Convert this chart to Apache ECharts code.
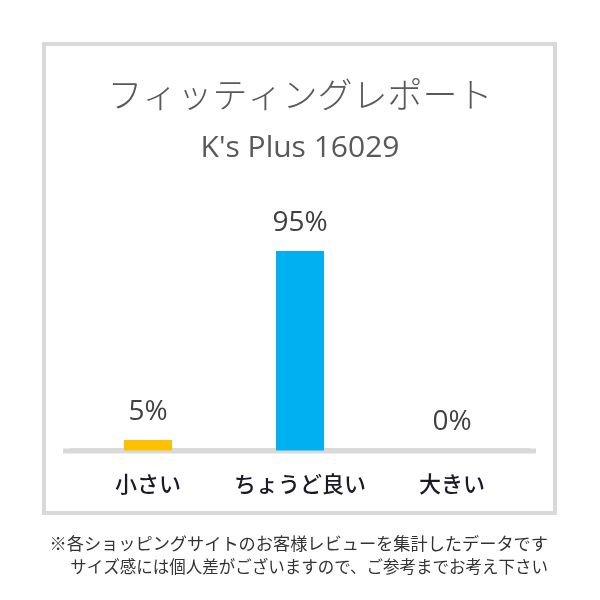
<!DOCTYPE html>
<html>
<head>
<meta charset="utf-8">
<script src="https://cdn.jsdelivr.net/npm/echarts@6/dist/echarts.min.js"></script>
<style>html,body{margin:0;padding:0;background:#fff}#c{width:600px;height:600px}</style>
</head>
<body>
<div id="c"></div>
<script>
const categories = ['小さい', 'ちょうど良い', '大きい'];
const values = [5, 95, 0];
const barColors = ['#FFC000', '#00B0F0', '#A5A5A5'];
const titleText = 'フィッティングレポート';
const subtitleText = "K's Plus 16029";
const noteLines = ['※各ショッピングサイトのお客様レビューを集計したデータです', 'サイズ感には個人差がございますので、ご参考までお考え下さい'];

const chart = echarts.init(document.getElementById('c'), null, {renderer: 'canvas'});
chart.setOption({
  animation: false,
  backgroundColor: '#fff',
  title: [
    {text: titleText, left: 'center', top: 72,
     textStyle: {fontFamily: 'Noto Sans CJK JP', fontSize: 35, fontWeight: 300, color: '#595959'}},
    {text: subtitleText, left: 'center', top: 128,
     textStyle: {fontFamily: 'Open Sans', fontSize: 30, fontWeight: 'normal', color: '#595959'}}
  ],
  grid: {left: 72, right: 72, top: 240.5, bottom: 149.5},
  xAxis: {
    type: 'category', data: categories,
    axisLine: {show: true, lineStyle: {color: '#d9d9d9', width: 5}},
    axisTick: {show: false},
    axisLabel: {interval: 0, hideOverlap: false, fontFamily: 'Noto Sans CJK JP', fontSize: 22, fontWeight: 500, color: '#1a1a2a', margin: 22}
  },
  yAxis: {type: 'value', min: 0, max: 100, show: false, splitLine: {show: false}},
  series: [{
    type: 'bar', barWidth: 48,
    data: values.map((v, i) => ({value: v, itemStyle: {color: barColors[i]}})),
    label: {show: true, position: 'top', distance: 14, formatter: '{c}%',
      fontFamily: 'Open Sans', fontSize: 28, color: '#404040'}
  }],
  graphic: [
    {type: 'rect', shape: {x: 44, y: 44, width: 511, height: 469},
     style: {fill: 'none', stroke: '#d9d9d9', lineWidth: 4}, z: -1},
    {type: 'line', shape: {x1: 63, y1: 451, x2: 536, y2: 451},
     style: {stroke: '#d9d9d9', lineWidth: 5}, z: -1},
    {type: 'text', x: 548, y: 543, style: {text: noteLines[0], textAlign: 'right', textVerticalAlign: 'middle',
      font: '17.2px "Noto Sans CJK JP"', fill: '#333'}},
    {type: 'text', x: 548, y: 567, style: {text: noteLines[1], textAlign: 'right', textVerticalAlign: 'middle',
      font: '16.5px "Noto Sans CJK JP"', fill: '#333'}}
  ]
});
</script>
</body>
</html>
